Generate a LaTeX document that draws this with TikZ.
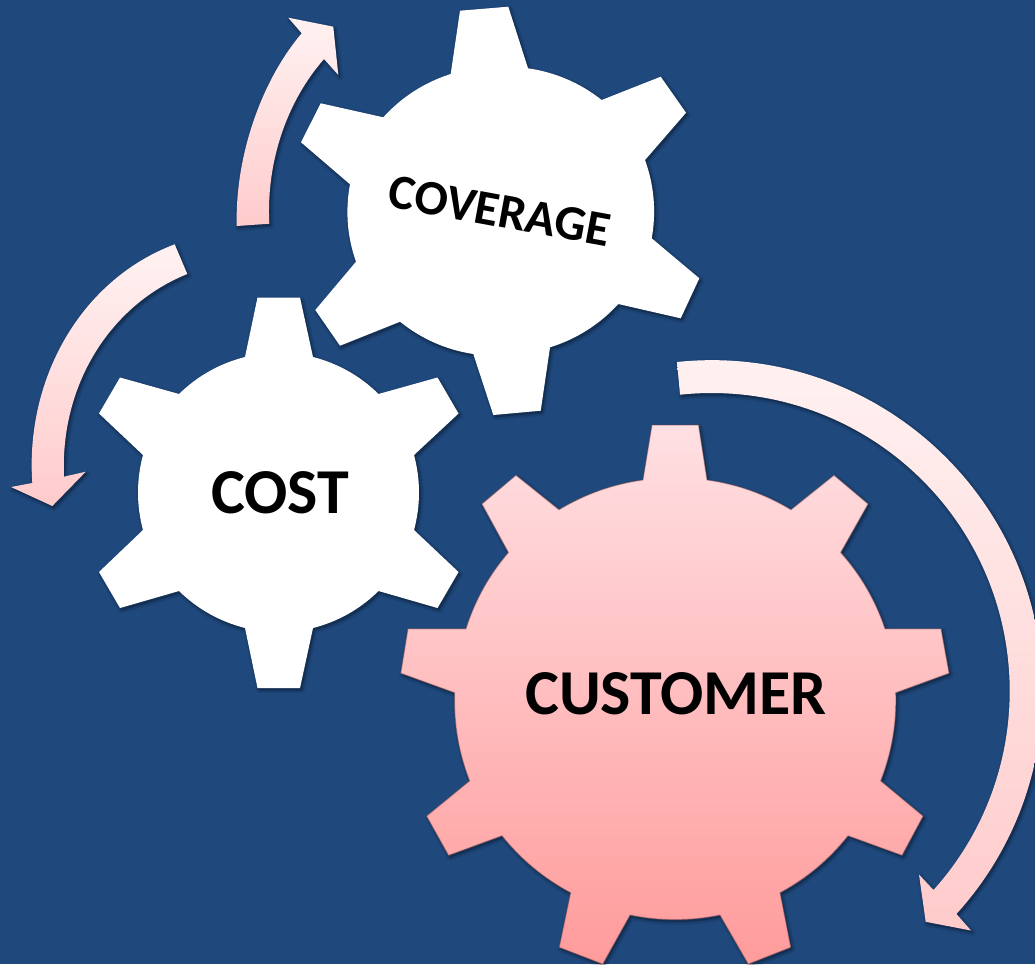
\documentclass[tikz,border=0pt]{standalone}
\usepackage{fontspec}
\setmainfont{Carlito}
\definecolor{bgblue}{HTML}{1F497D}
\definecolor{arrowtop}{HTML}{FFF2F2}
\definecolor{arrowbot}{HTML}{FFCBCB}
\definecolor{custtop}{HTML}{FFE0E3}
\definecolor{custbot}{HTML}{FF9B9B}
\tikzset{
  ca/.style={bend left=15,looseness=.88},
  cb/.style={bend left=11.5,looseness=.88},
  softshadow/.style={fill=black,draw=black,fill opacity=.07,draw opacity=.07,line join=round,line width=#1,xshift=1.2pt,yshift=-1.6pt},
  arrowfill/.style={top color=arrowtop,bottom color=arrowbot},
  gearlabel/.style={font=\bfseries,text=black,inner sep=0pt,anchor=center}
}
\def\costpath{(245,357) -- (257.5,297.5) -- (300,297.5) -- (313,357) to[ca] (378.5,394) -- (437.5,377.5) -- (458.5,413.5) -- (414,455) to[ca] (414,530) -- (458.5,572) -- (437.5,608) -- (378.5,591) to[ca] (313,628) -- (300,688) -- (257.5,688) -- (245,628) to[ca] (179,591) -- (120,608) -- (99,572) -- (143,530) to[ca] (143,455) -- (99,413.5) -- (120,377.5) -- (179,394) to[ca] (245,357) -- cycle}
\def\covpath{(450.7,74) -- (460,10.7) -- (508.3,6.7) -- (528,68.3) to[ca] (601.7,100) -- (660.7,76.7) -- (686,112.7) -- (645,160) to[ca] (651.7,238.3) -- (699.3,278.3) -- (680.7,318.3) -- (618.3,304) to[ca] (550,347.3) -- (540.7,410.7) -- (493.3,415) -- (473.3,354) to[ca] (400,321.7) -- (340,345.7) -- (315.3,310) -- (356,261.7) to[ca] (350,184.3) -- (301,142.3) -- (320.7,103.3) -- (383.3,117.3) to[ca] (450.7,74) -- cycle}
\def\custpath{(643,480) -- (652,425.2) -- (698.5,425.2) -- (707,480) to[cb] (791,509.8) -- (834,475.3) -- (868,504) -- (840.6,552.5) to[cb] (885,628.9) -- (941,628.9) -- (949,673.2) -- (895.7,692.7) to[cb] (880.6,780.9) -- (923,816.1) -- (902,855.3) -- (848,835.7) to[cb] (780,892.7) -- (790.7,947.3) -- (748.3,964) -- (720,915) to[cb] (630,915) -- (602.7,964) -- (559.3,947.3) -- (570.7,892.7) to[cb] (502,835.7) -- (448.6,855.3) -- (426.7,816.1) -- (469.7,780.9) to[cb] (454.7,692.7) -- (400.8,673.2) -- (408,628.9) -- (466,628.9) to[cb] (508.5,552.5) -- (482,504) -- (516,475.3) -- (559,509.8) to[cb] (643,480) -- cycle}
\def\uparrowpath{(236.7,226) .. controls (235,155) and (262,80) .. (301.7,33.3) -- (288.3,17.7) -- (333.3,26.7) -- (338.3,75) -- (324,59) .. controls (288,100) and (266,160) .. (269.3,223.7) -- cycle}
\def\leftarrowpath{(174.7,244.3) .. controls (80,280) and (25,380) .. (32.3,483) -- (11,487) -- (52.3,506) -- (85.7,471.7) -- (64,476.7) .. controls (60,385) and (110,305) .. (187.3,274) -- cycle}
\def\bigarrowpath{(677,362) arc[start angle=-96,end angle=42.3,radius=331] -- (971,930.5) -- (925.7,921.8) -- (919,874.5) -- (933.5,890) arc[start angle=41.9,end angle=-96.1,radius=298] -- cycle}
\begin{document}
\begin{tikzpicture}[x=0.75pt,y=-0.75pt]
\useasboundingbox (0,0) rectangle (1035,964);
\clip (0,0) rectangle (1035,964);
\fill[bgblue] (0,0) rectangle (1035,964);
% shadows
\foreach \w in {5pt,3pt,1pt}{
  \path[softshadow=\w] \costpath;
  \path[softshadow=\w] \covpath;
  \path[softshadow=\w] \custpath;
  \path[softshadow=\w] \uparrowpath;
  \path[softshadow=\w] \leftarrowpath;
  \path[softshadow=\w] \bigarrowpath;
}
% gears
\fill[white] \costpath;
\fill[white] \covpath;
\path[top color=custtop,bottom color=custbot] \custpath;
\draw[draw=custbot!55!black,draw opacity=.45,line width=.8pt,line join=round] \custpath;
% arrows
\path[arrowfill] \uparrowpath;
\path[arrowfill] \leftarrowpath;
\path[arrowfill] \bigarrowpath;
% labels
\node[gearlabel,font=\bfseries\fontsize{48}{50}\selectfont] (cost) at (280,493) {COST};
\node[gearlabel,font=\bfseries\fontsize{48}{50}\selectfont] (customer) at (676,694) {CUSTOMER};
\node[gearlabel,rotate=-10.4,font=\bfseries\fontsize{37}{40}\selectfont] (coverage) at (500,211) {COVERAGE};
\end{tikzpicture}
\end{document}
